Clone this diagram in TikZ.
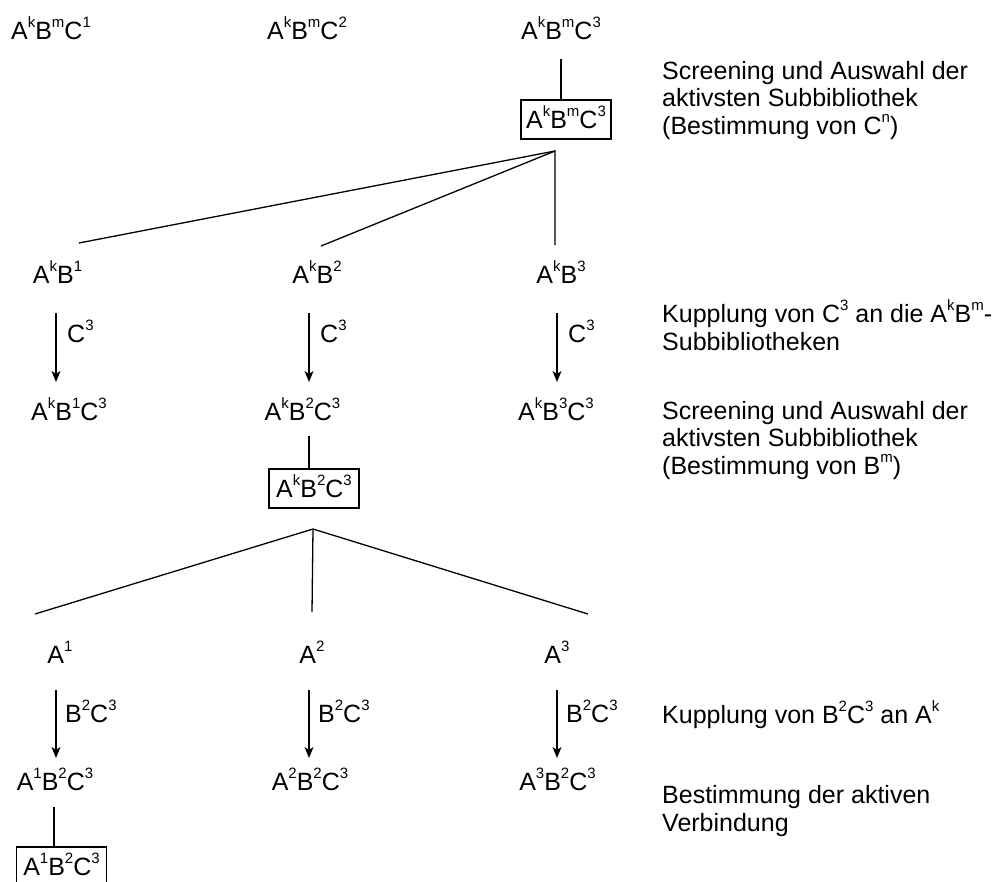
\documentclass[tikz,border=0pt]{standalone}
\usepackage{fontspec}
\setmainfont{Liberation Sans}
\usetikzlibrary{arrows.meta}
% raised index used in the library names
\newcommand\su[1]{\raisebox{0.46em}{\fontsize{15}{15}\selectfont #1}}

\begin{document}
\begin{tikzpicture}[x=1pt,y=-1pt,
  font=\fontsize{25}{27.5}\selectfont,
  lbl/.style={anchor=base, inner sep=0pt},
  note/.style={anchor=base west, inner sep=0pt},
  flab/.style={anchor=base west, inner sep=0pt},
  selbox/.style={draw, line width=1.3pt, minimum width=90pt, minimum height=39pt,
                 text height=17pt, text depth=0pt, inner sep=0pt},
  link/.style={line width=1.3pt},
  thicklink/.style={line width=2.6pt},
  feed/.style={line width=1.3pt, -{Stealth[length=11pt,width=9pt,inset=3pt]}}]

\useasboundingbox[fill=white] (0,0) rectangle (996,881);

% --- starting libraries A^kB^mC^n
\node[lbl] (t1) at (51,39)  {A\su{k}B\su{m}C\su{1}};
\node[lbl] (t2) at (307,39) {A\su{k}B\su{m}C\su{2}};
\node[lbl] (t3) at (561,39) {A\su{k}B\su{m}C\su{3}};
\node[selbox] (b1) at (566,119.5) {A\su{k}B\su{m}C\su{3}};
\coordinate (t3s) at (561,59);
\draw[link] (t3s) -- (t3s |- b1.north);

% --- split into the A^kB^m sublibraries
\coordinate (f1) at (555,151);
\coordinate (e1) at (79,243);
\coordinate (e2) at (321,246);
\coordinate (e3) at (555,245);
\draw[link] (e1) -- (f1) -- (e3);
\draw[link] (f1) -- (e2);

\node[lbl] (r1) at (57.5,283) {A\su{k}B\su{1}};
\node[lbl] (r2) at (317,283)  {A\su{k}B\su{2}};
\node[lbl] (r3) at (561,283)  {A\su{k}B\su{3}};

% coupling of C^3
\node[lbl] (s1) at (69,420)    {A\su{k}B\su{1}C\su{3}};
\node[lbl] (s2) at (302.5,420) {A\su{k}B\su{2}C\su{3}};
\node[lbl] (s3) at (556,420)   {A\su{k}B\su{3}C\su{3}};

\foreach \i/\x in {1/56,2/309,3/557}{
  \coordinate (ua\i) at (\x,313);
  \coordinate (ub\i) at (\x,382);
  \draw[feed] (ua\i) -- (ub\i);
  \node[flab] (cl\i) at (\x+11,342) {C\su{3}};
}

\node[selbox] (b2) at (314,488.5) {A\su{k}B\su{2}C\su{3}};
\coordinate (s2s) at (309,436);
\draw[thicklink] (s2s) -- (s2s |- b2.north);

% --- split into the A^k building blocks
\coordinate (f2) at (313,529);
\coordinate (g1) at (35,614);
\coordinate (g2) at (312,612);
\coordinate (g3) at (588,614);
\draw[link] (g1) -- (f2) -- (g3);
\draw[link] (f2) -- (g2);

\node[lbl] (q1) at (60,663)  {A\su{1}};
\node[lbl] (q2) at (312,663) {A\su{2}};
\node[lbl] (q3) at (557,663) {A\su{3}};

% coupling of B^2C^3
\node[lbl] (v1) at (55,790)    {A\su{1}B\su{2}C\su{3}};
\node[lbl] (v2) at (310,790)   {A\su{2}B\su{2}C\su{3}};
\node[lbl] (v3) at (557.5,790) {A\su{3}B\su{2}C\su{3}};

\foreach \i/\x in {1/56,2/309,3/557}{
  \coordinate (wa\i) at (\x,690);
  \coordinate (wb\i) at (\x,758);
  \draw[feed] (wa\i) -- (wb\i);
  \node[flab] (bl\i) at (\x+9,722) {B\su{2}C\su{3}};
}

\node[selbox] (b3) at (61.5,866.5) {A\su{1}B\su{2}C\su{3}};
\coordinate (v1s) at (54,807);
\draw[link] (v1s) -- (v1s |- b3.north);

% --- step descriptions
\node[note] (n1a) at (662,79)    {Screening und Auswahl der};
\node[note] (n1b) at (662,106.5) {aktivsten Subbibliothek};
\node[note] (n1c) at (662,134)   {(Bestimmung von C\su{n})};

\node[note] (n2a) at (662,322) {Kupplung von C\su{3} an die A\su{k}B\su{m}-};
\node[note] (n2b) at (662,350) {Subbibliotheken};

\node[note] (n3a) at (662,419)   {Screening und Auswahl der};
\node[note] (n3b) at (662,446.5) {aktivsten Subbibliothek};
\node[note] (n3c) at (662,474)   {(Bestimmung von B\su{m})};

\node[note] (n4a) at (662,723) {Kupplung von B\su{2}C\su{3} an A\su{k}};

\node[note] (n5a) at (662,803) {Bestimmung der aktiven};
\node[note] (n5b) at (662,831) {Verbindung};
\end{tikzpicture}
\end{document}
